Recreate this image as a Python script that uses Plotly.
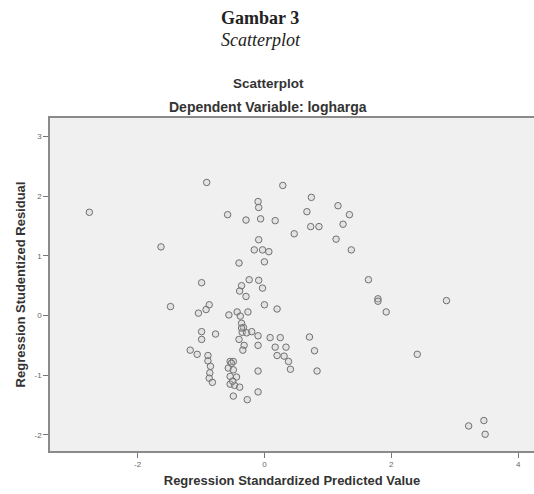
import plotly.graph_objects as go

# Regression Standardized Predicted Value
pred = [-2.76, -0.91, -0.58, -1.63, -0.10, -0.09, -0.29, -0.06, 0.17, 0.29,
        -0.09, -0.16, -0.03, 0.07, -0.40, 0.00, -0.99, -0.24, -0.09, -0.03,
        -0.36, -0.39, -0.29, 0.74, 0.67, 1.16, 1.34, 1.24, 0.73, 0.86,
        0.47, 1.13, 1.37, 1.64, 1.79, 1.79, 1.92, 2.87, 2.41, 3.22,
        3.46, 3.48, 0.71, 0.79, 0.83, 0.09, 0.25, 0.17, 0.34, 0.20,
        0.31, 0.38, 0.41, -1.48, -0.87, -0.92, -1.04, -0.99, -0.99, -0.77,
        -1.17, -1.06, -0.89, -0.89, -0.85, -0.86, -0.87, -0.82, -0.56, -0.43,
        -0.38, -0.26, -0.36, -0.35, -0.28, -0.20, -0.10, -0.40, -0.32, -0.34,
        -0.10, 0.00, 0.20, -0.54, -0.49, -0.57, -0.49, -0.54, -0.44, -0.54,
        -0.47, -0.39, -0.49, -0.27, -0.10, -0.10, -0.33, -0.36, -0.52, -0.50]

# Regression Studentized Residual
resid = [1.73, 2.23, 1.69, 1.15, 1.91, 1.81, 1.60, 1.62, 1.59, 2.18,
         1.27, 1.10, 1.10, 1.07, 0.88, 0.90, 0.55, 0.60, 0.59, 0.46,
         0.50, 0.41, 0.32, 1.98, 1.74, 1.84, 1.69, 1.53, 1.49, 1.49,
         1.37, 1.28, 1.10, 0.60, 0.28, 0.24, 0.06, 0.25, -0.65, -1.85,
         -1.76, -1.99, -0.36, -0.59, -0.93, -0.37, -0.37, -0.53, -0.53, -0.67,
         -0.68, -0.77, -0.90, 0.15, 0.18, 0.10, 0.04, -0.27, -0.40, -0.31,
         -0.58, -0.65, -0.67, -0.76, -0.85, -0.96, -1.05, -1.12, 0.01, 0.06,
         -0.01, 0.06, -0.13, -0.28, -0.29, -0.27, -0.34, -0.40, -0.50, -0.58,
         -0.50, 0.18, 0.11, -0.77, -0.77, -0.88, -0.91, -1.02, -1.03, -1.15,
         -1.17, -1.20, -1.35, -1.41, -0.93, -1.28, -0.20, -0.21, -0.80, -1.10]

x_ticks = [-2, 0, 2, 4]
y_ticks = [-2, -1, 0, 1, 2, 3]

fig = go.Figure()
fig.add_trace(go.Scatter(
    x=pred, y=resid, mode="markers",
    marker=dict(symbol="circle", size=6.5, color="rgba(200,200,200,0.3)",
                line=dict(color="#707070", width=1)),
    showlegend=False, hoverinfo="x+y"))

W, H = 534, 494
L, R, T, B = 50, 0, 118, 43
ph = H - T - B

def py(p):
    return (H - B - p) / ph

tick_font = dict(family="Liberation Sans, Arial", size=8, color="#666")
fig.update_layout(
    width=W, height=H,
    margin=dict(l=L, r=R, t=T, b=B),
    paper_bgcolor="white", plot_bgcolor="#f0f0f0",
    xaxis=dict(range=[-3.38, 4.25], tickvals=x_ticks, ticktext=[str(v) for v in x_ticks],
               showgrid=False, zeroline=False, showline=True, linecolor="#8a8a8a",
               linewidth=1.5, mirror=True, ticks="outside", ticklen=5, tickcolor="#777",
               tickfont=tick_font,
               title=dict(text="<b>Regression Standardized Predicted Value</b>",
                          font=dict(family="Liberation Sans, Arial", size=13, color="#333"),
                          standoff=8)),
    yaxis=dict(range=[-2.27, 3.31], tickvals=y_ticks, ticktext=[str(v) for v in y_ticks],
               showgrid=False, zeroline=False, showline=True, linecolor="#8a8a8a",
               linewidth=1.5, ticks="outside", ticklen=5, tickcolor="#777",
               tickfont=tick_font,
               title=dict(text="<b>Regression Studentized Residual</b>",
                          font=dict(family="Liberation Sans, Arial", size=13, color="#333"),
                          standoff=6)),
    annotations=[
        dict(text="<b>Gambar 3</b>", x=260, xref="paper", y=py(18), yref="paper",
             showarrow=False, font=dict(family="Liberation Serif, Times New Roman", size=18, color="#222"),
             xanchor="center", yanchor="middle"),
        dict(text="<i>Scatterplot</i>", x=261, xref="paper", y=py(40), yref="paper",
             showarrow=False, font=dict(family="Liberation Serif, Times New Roman", size=18, color="#222"),
             xanchor="center", yanchor="middle"),
        dict(text="<b>Scatterplot</b>", x=268, xref="paper", y=py(83), yref="paper",
             showarrow=False, font=dict(family="Liberation Sans, Arial", size=13.5, color="#333"),
             xanchor="center", yanchor="middle"),
        dict(text="<b>Dependent Variable: logharga</b>", x=268, xref="paper", y=py(107), yref="paper",
             showarrow=False, font=dict(family="Liberation Sans, Arial", size=14, color="#333"),
             xanchor="center", yanchor="middle"),
    ],
)
# convert annotation x pixels to paper fraction
pw = W - L - R
for a in fig.layout.annotations:
    a.x = (a.x - L) / pw

fig.write_html("out.html")
